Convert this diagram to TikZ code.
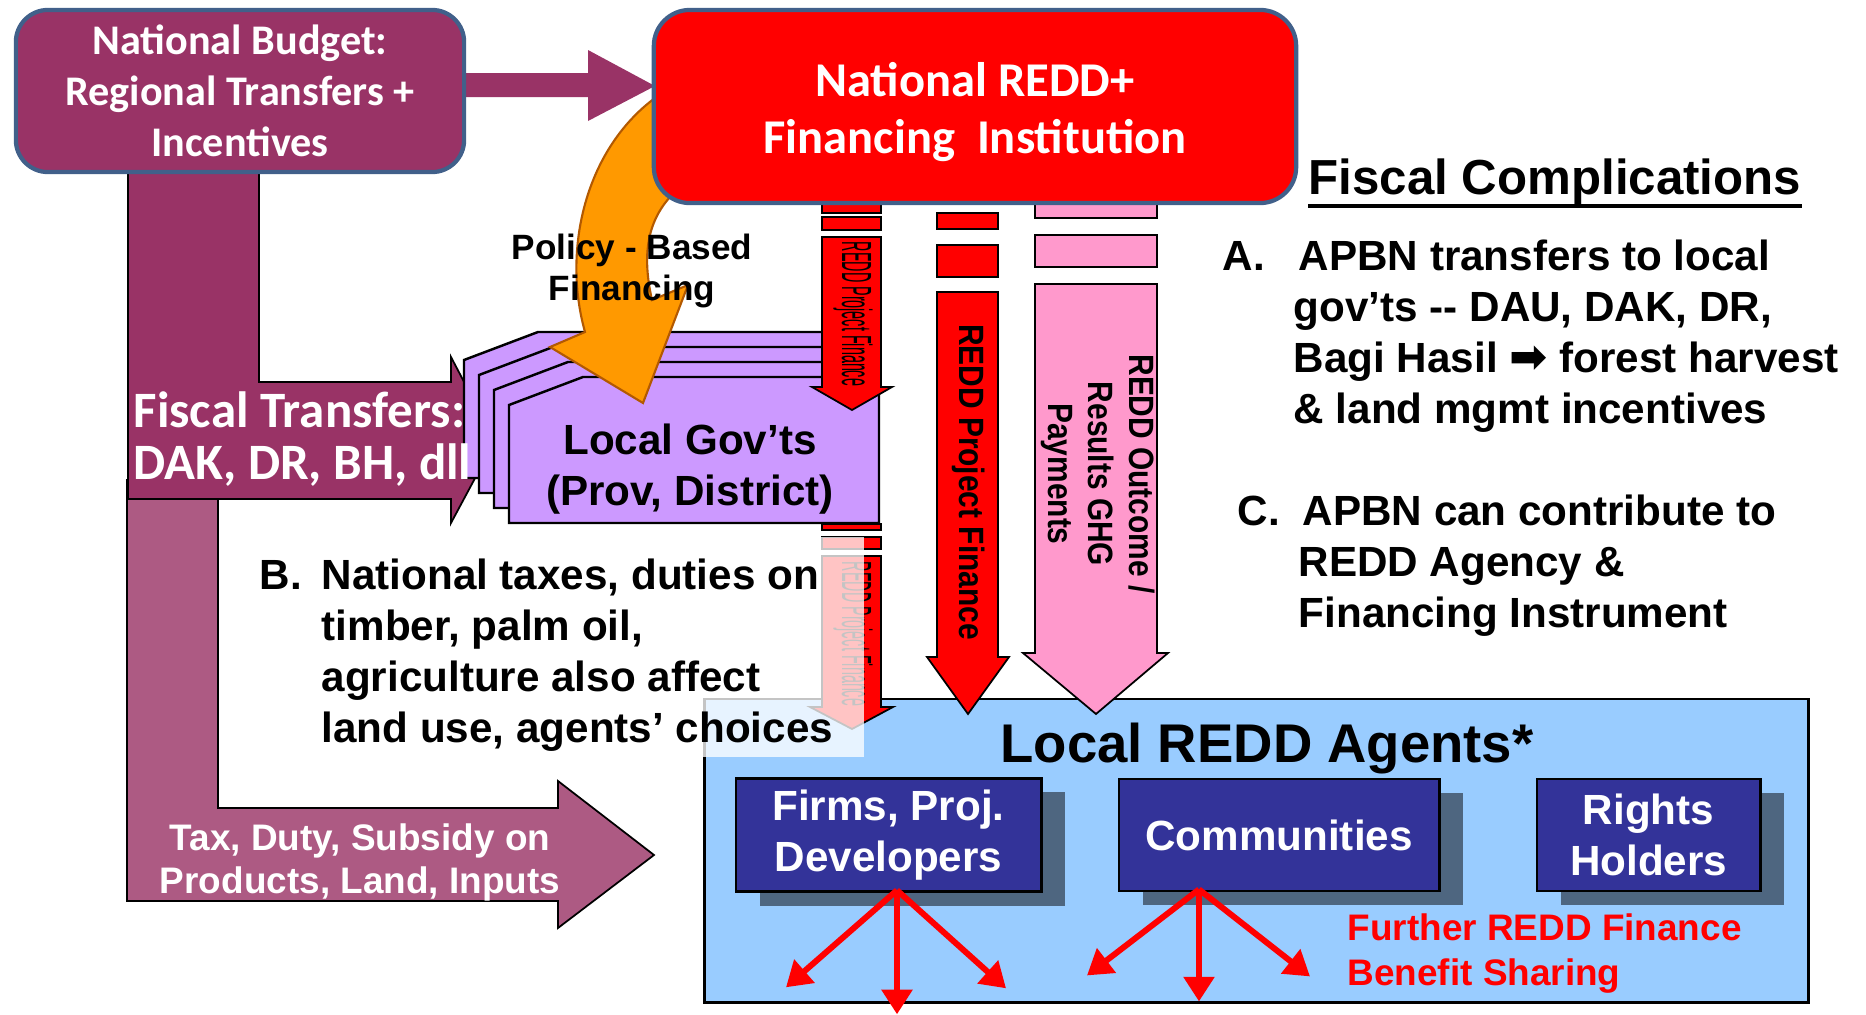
\documentclass[tikz,border=0pt]{standalone}
\usepackage{graphicx}
\usepackage{fontspec}
\setmainfont{Liberation Sans}
\newfontfamily\calib{Carlito}
\newfontfamily\narrowsans[FakeStretch=0.85]{Liberation Sans}
\newfontfamily\dejavu{DejaVu Sans}
\usetikzlibrary{arrows.meta,positioning,shadows}

\definecolor{budget}{HTML}{993366}
\definecolor{taxcol}{HTML}{AD5A83}
\definecolor{edgeblue}{HTML}{41608A}
\definecolor{govcol}{HTML}{CC99FF}
\definecolor{policycol}{HTML}{FF9900}
\definecolor{policyedge}{HTML}{B35900}
\definecolor{outcomecol}{HTML}{FF99CC}
\definecolor{agentscol}{HTML}{99CCFF}
\definecolor{agentcol}{HTML}{333399}
\definecolor{shadowcol}{HTML}{4E6680}

\begin{document}
\begin{tikzpicture}[x=0.01cm,y=-0.01cm,
  bigbox/.style={draw=edgeblue,line width=1.2pt,rounded corners=0.32cm,text=white,align=center},
  blockarrow/.style={draw=black,line width=0.5pt},
  govbox/.style={draw=black,line width=0.7pt,fill=govcol},
  agent/.style={draw=black,line width=0.8pt,fill=agentcol,text=white,align=center,minimum height=1.12cm,
    font=\bfseries\fontsize{12}{14.5}\selectfont,
    drop shadow={shadow xshift=0.24cm,shadow yshift=-0.14cm,fill=shadowcol,opacity=1}},
  spread/.style={draw=red,line width=1.7pt,-{Triangle[length=7pt,width=8.5pt]}},
  rottext/.style={rotate=-90,inner sep=0,align=center,font=\narrowsans\bfseries\fontsize{10}{11.4}\selectfont},
  tinytext/.style={rotate=-90,inner sep=0,font=\fontsize{12}{14}\selectfont},
  notetext/.style={inner sep=0,align=left,font=\bfseries\fontsize{12}{14.5}\selectfont}]

  % page frame
  \useasboundingbox (0,0) rectangle (1866,1015);

  % tax / duty arrow and fiscal transfer arrow
  \draw[blockarrow,fill=taxcol] (127,480) -- (127,901) -- (558,901) -- (558,928) -- (654,855)
    -- (558,781) -- (558,808) -- (218,808) -- (218,480) -- cycle;
  \draw[blockarrow,fill=budget] (128,150) -- (128,499) -- (451,499) -- (451,523) -- (495,441)
    -- (451,357) -- (451,382) -- (259,382) -- (259,150) -- cycle;
  \fill[budget] (460,73) -- (588,73) -- (588,50) -- (655,86) -- (588,121) -- (588,97) -- (460,97) -- cycle;

  \node[bigbox,fill=budget,minimum width=4.48cm,minimum height=1.62cm,
    font=\calib\bfseries\fontsize{12}{14.5}\selectfont] (budget) at (240,91)
    {National Budget:\\Regional Transfers +\\Incentives};

  % local government sheets
  \foreach \i in {0,...,3}
    \draw[govbox] ({464+15*\i},{360+15*\i}) -- ++(74,-28) -- ++(296,0) -- ++(0,146) -- ++(-370,0) -- cycle;
  \node[notetext,align=center] (localgov) at (690,469) {Local Gov’ts\\(Prov, District)};

  % small project finance arrow, upper part
  \foreach \ya/\yb in {203/213,217/230}
    \draw[blockarrow,fill=red] (822,\ya) rectangle (881,\yb);
  \draw[blockarrow,fill=red] (822,237) -- (822,387) -- (812,387) -- (852,410) -- (892,387)
    -- (881,387) -- (881,237) -- cycle;
  \node[tinytext] (smallup) at (853,314) {\scalebox{0.34}[1]{REDD Project Finance}};

  % policy based financing
  \draw[fill=policycol,draw=policyedge,line width=0.6pt] (655,98) .. controls (585,150) and (562,250) .. (585,332)
    -- (550,347) -- (643,403) -- (688,285) -- (652,300) .. controls (643,260) and (645,225) .. (670,197) -- cycle;
  \node[notetext,align=center,font=\bfseries\fontsize{10}{11.7}\selectfont] (policy) at (632,271) {Policy - Based\\Financing};

  % local agents
  \node[draw=black,line width=0.8pt,fill=agentscol,minimum width=11.03cm,minimum height=3.03cm] (agentsbox) at (1256.5,850.5) {};

  % small project finance arrow, lower part
  \foreach \ya/\yb in {524/530,537/549}
    \draw[blockarrow,fill=red] (822,\ya) rectangle (881,\yb);
  \draw[blockarrow,fill=red] (822,556) -- (822,707) -- (810,707) -- (852,729) -- (893,707)
    -- (881,707) -- (881,556) -- cycle;
  \node[tinytext] (smalldown) at (853,634) {\scalebox{0.34}[1]{REDD Project Finance}};

  % project finance and outcome payments
  \foreach \ya/\yb in {213/229,245/277}
    \draw[blockarrow,fill=red] (937,\ya) rectangle (998,\yb);
  \draw[blockarrow,fill=red] (937,292) -- (937,657) -- (927,657) -- (968,714) -- (1009,657)
    -- (998,657) -- (998,292) -- cycle;
  \node[rottext] (projfin) at (969,482) {REDD Project Finance};

  \foreach \ya/\yb in {200/218,235/267}
    \draw[blockarrow,fill=outcomecol] (1035,\ya) rectangle (1157,\yb);
  \draw[blockarrow,fill=outcomecol] (1035,284) -- (1035,653) -- (1023,653) -- (1096,714) -- (1168,653)
    -- (1157,653) -- (1157,284) -- cycle;
  \node[rottext] (outcome) at (1098,474) {REDD Outcome /\\Results GHG\\Payments};

  \node[bigbox,fill=red,minimum width=6.42cm,minimum height=1.93cm,rounded corners=0.36cm] (redd) at (975,106.5) {};
  \node[text=white,inner sep=0,align=center,font=\calib\bfseries\fontsize{13.8}{16.2}\selectfont] (reddtext)
    at ([yshift=-0.06cm]redd.center) {National REDD+\\Financing\ \ Institution};

  % note B over a pale box
  \fill[white,opacity=0.77] (250,537) rectangle (864,757);
  \node[notetext,anchor=west] (noteb) at (259,655)
    {\makebox[0.62cm][l]{B.}National taxes, duties on\\\hspace*{0.62cm}timber, palm oil,\\
     \hspace*{0.62cm}agriculture also affect\\\hspace*{0.62cm}land use, agents’ choices};

  \node[notetext,font=\bfseries\fontsize{15.5}{18}\selectfont] (agentstitle) at (1267,749) {Local REDD Agents*};
  \node[agent,minimum width=3.05cm] (firms) at (888.5,835) {Firms, Proj.\\Developers};
  \node[agent,minimum width=3.2cm,right=0.75cm of firms] (comm) {Communities};
  \node[agent,minimum width=2.23cm,right=0.95cm of comm] (rights) {Rights\\Holders};

  \foreach \dx/\dy in {-111/97,0/124,109/98}
    \draw[spread] ([xshift=0.085cm,yshift=0.03cm]firms.south) -- ++(\dx,\dy);
  \foreach \dx/\dy in {-112/86,0/112,111/87}
    \draw[spread] ([xshift=-0.8cm,yshift=0.03cm]comm.south) -- ++(\dx,\dy);
  \node[notetext,text=red,anchor=west,font=\bfseries\fontsize{10.5}{12.8}\selectfont] (further) at (1347,954)
    {Further REDD Finance\\Benefit Sharing};

  % arrow labels
  \node[notetext,text=white,align=center,font=\bfseries\fontsize{10.5}{12.2}\selectfont] (taxtext) at (360,862)
    {Tax, Duty, Subsidy on\\Products, Land, Inputs};
  \node[notetext,text=white,anchor=west,font=\calib\bfseries\fontsize{14.5}{15}\selectfont] (fiscaltext) at (133,439)
    {Fiscal Transfers:\\DAK, DR, BH, dll};

  % fiscal complications
  \node[notetext,font=\bfseries\fontsize{14}{17}\selectfont] (fischd) at (1555,182) {Fiscal Complications};
  \draw[line width=1.2pt] (fischd.south west) -- (fischd.south east);
  \node[notetext,anchor=west] (notea) at (1222,336)
    {\makebox[0.76cm][l]{A.}APBN transfers to local\\\hspace*{0.71cm}gov’ts -{}- DAU, DAK, DR,\\
     \hspace*{0.71cm}Bagi Hasil {\dejavu\fontsize{13}{14.5}\selectfont ➡} forest harvest\\\hspace*{0.71cm}\& land mgmt incentives};
  \node[notetext,anchor=west] (notec) at (1237,566)
    {\makebox[0.65cm][l]{C.}APBN can contribute to\\\hspace*{0.61cm}REDD Agency \&\\\hspace*{0.61cm}Financing Instrument};
\end{tikzpicture}
\end{document}
